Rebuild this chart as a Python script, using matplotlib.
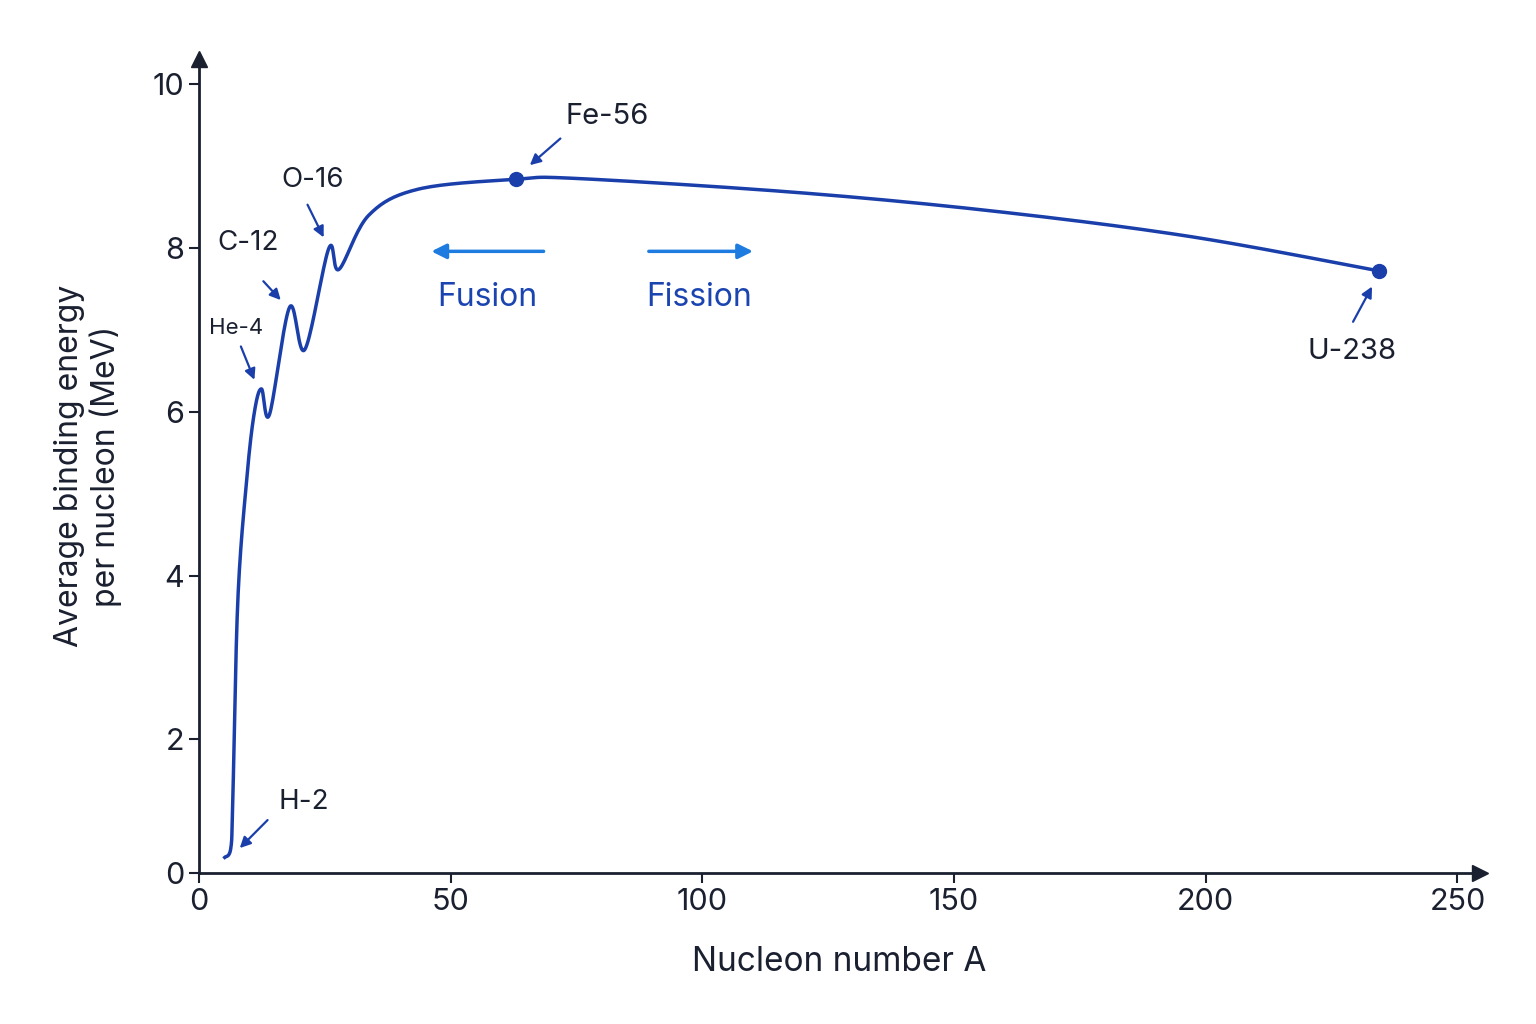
import numpy as np
import matplotlib
matplotlib.use("Agg")
import matplotlib.pyplot as plt

A = [5.1, 6.3, 6.7, 7.7, 9.5, 11.0, 12.4, 14.0, 18.0, 21.0, 25.8, 27.8, 33.7, 43.6, 63.0, 75.0, 118.5, 158.0, 197.0, 234.5]
E = [0.56, 0.67, 1.26, 3.7, 5.2, 6.0, 6.28, 5.97, 7.28, 6.76, 8.0, 7.74, 8.4, 8.72, 8.84, 8.85, 8.68, 8.45, 8.14, 7.72]
yticks = [2, 4, 6, 8, 10]
xticks = [0, 50, 100, 150, 200, 250]

def catmull(xs, ys, n=20):
    P = np.column_stack([xs, ys])
    P = np.vstack([P[0], P, P[-1]])
    out = []
    for i in range(1, len(P) - 2):
        p0, p1, p2, p3 = P[i-1], P[i], P[i+1], P[i+2]
        t = np.linspace(0, 1, n, endpoint=False)[:, None]
        pts = 0.5 * ((2*p1) + (-p0+p2)*t + (2*p0-5*p1+4*p2-p3)*t**2 + (-p0+3*p1-3*p2+p3)*t**3)
        out.append(pts)
    out.append(P[-2][None, :])
    out = np.vstack(out)
    return out[:, 0], out[:, 1]

plt.rcParams['font.family'] = ['Inter', 'DejaVu Sans']
dark = '#1a3faa'
light = '#1e7be0'
txt = '#1a2030'

fig = plt.figure(figsize=(15.36, 10.24), dpi=100)
ax = fig.add_axes([0.1296, 0.1475, 0.834, 0.795])
ax.set_xlim(0, 254.5)
ax.set_ylim(0.37, 10.31)
for s in ['top', 'right']:
    ax.spines[s].set_visible(False)
for s in ['left', 'bottom']:
    ax.spines[s].set_linewidth(2)
    ax.spines[s].set_color(txt)
ax.plot(1, 0, ">", transform=ax.transAxes, clip_on=False, color=txt, ms=12)
ax.plot(0, 1, "^", transform=ax.transAxes, clip_on=False, color=txt, ms=12)

ax.set_xticks(xticks)
ax.set_yticks([0.37] + yticks)
ax.set_yticklabels(['0'] + [str(v) for v in yticks])
ax.tick_params(labelsize=22, colors=txt, width=1.5, length=7)
ax.set_xlabel("Nucleon number A", fontsize=24, color=txt, labelpad=22)
ax.set_ylabel("Average binding energy\nper nucleon (MeV)", fontsize=23, color=txt, labelpad=22)

cx, cy = catmull(A, E)
ax.plot(cx, cy, color=dark, lw=2.5)
ax.plot([A[14], A[-1]], [E[14], E[-1]], 'o', color=dark, ms=10)

ann = [
    ("H-2", (20.9, 1.24), (14, 1.04), (7.7, 0.65), 20),
    ("He-4", (7.3, 7.02), (8.1, 6.83), (11.2, 6.36), 16),
    ("C-12", (9.7, 8.06), (12.4, 7.62), (16.6, 7.34), 20),
    ("O-16", (22.5, 8.83), (21.3, 8.56), (25.0, 8.1), 20),
    ("Fe-56", (81, 9.61), (72.2, 9.36), (65.3, 8.99), 21),
    ("U-238", (229, 6.74), (229, 7.07), (233.3, 7.56), 21),
]
for lab, tp, a0, a1, fs in ann:
    ax.text(tp[0], tp[1], lab, fontsize=fs, color=txt, ha='center', va='center')
    ax.annotate("", xy=a1, xytext=a0,
                arrowprops=dict(arrowstyle='-|>', color=dark, lw=1.6, mutation_scale=16))

ax.annotate("", xy=(45.6, 7.96), xytext=(69, 7.96),
            arrowprops=dict(arrowstyle='-|>', color=light, lw=2.5, mutation_scale=22))
ax.annotate("", xy=(110.6, 7.96), xytext=(88.8, 7.96),
            arrowprops=dict(arrowstyle='-|>', color=light, lw=2.5, mutation_scale=22))
ax.text(57.2, 7.4, "Fusion", fontsize=23, color='#1a44b0', ha='center', va='center')
ax.text(99.4, 7.4, "Fission", fontsize=23, color='#1a44b0', ha='center', va='center')

fig.savefig("out.png", dpi=100, facecolor='white')
